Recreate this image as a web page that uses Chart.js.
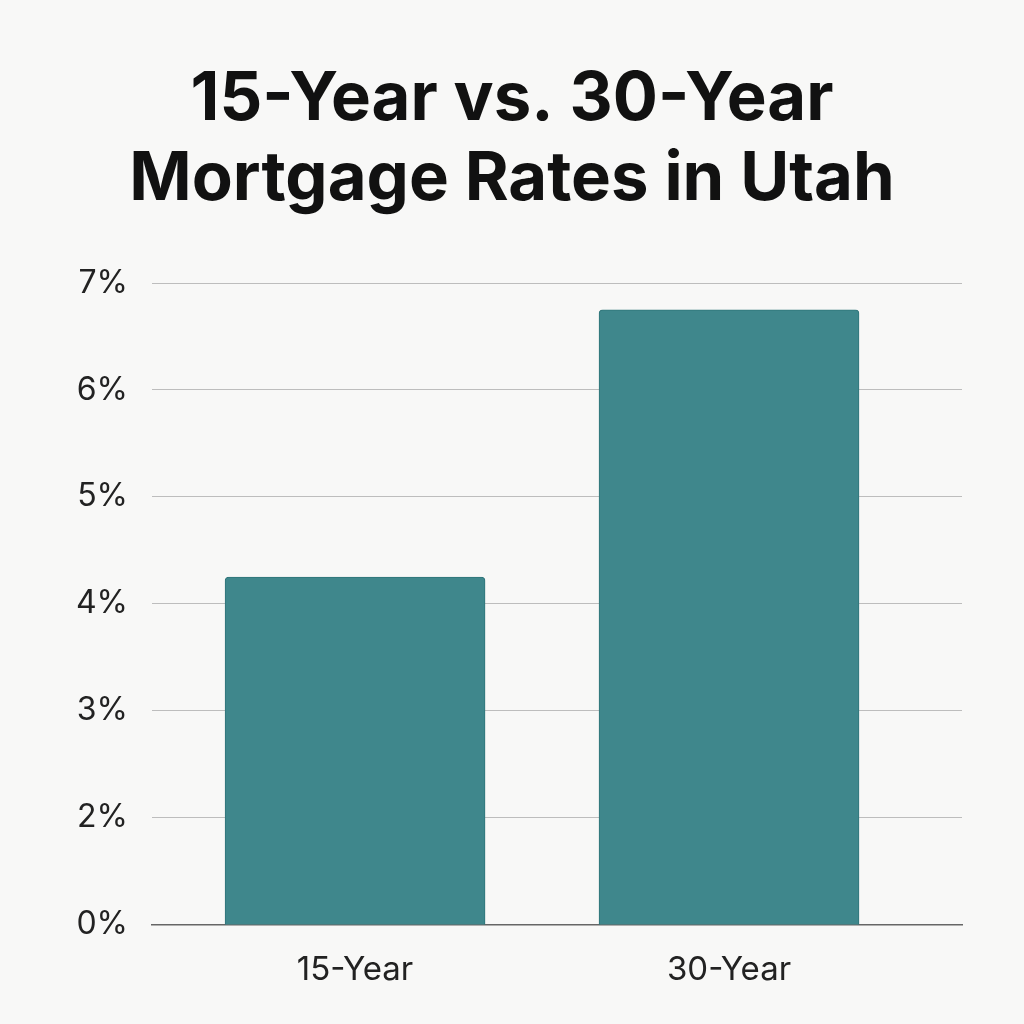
<!DOCTYPE html>
<html><head><meta charset="utf-8">
<script src="https://cdn.jsdelivr.net/npm/chart.js@4"></script>
<style>html,body{margin:0;padding:0;background:#f8f8f7;}#w{width:1024px;height:1024px;}</style>
</head><body><div id="w"><canvas id="c"></canvas></div>
<script>
const categories = ["15-Year", "30-Year"];
const rates = [4.25, 6.75];
// The reference's axis marks its bottom gridline (the 1% level) as "0%"
const tickValues = [1, 2, 3, 4, 5, 6, 7];
const tickLabels = ["0%", "2%", "3%", "4%", "5%", "6%", "7%"];
const titleLines = ["15-Year vs. 30-Year", "Mortgage Rates in Utah"];

const titlePlugin = {
  id: 'canvasTitle',
  afterDraw(chart) {
    const ctx = chart.ctx;
    ctx.save();
    ctx.fillStyle = '#111';
    ctx.font = 'bold 67px Inter';
    ctx.textAlign = 'center';
    ctx.textBaseline = 'middle';
    titleLines.forEach((t, i) => ctx.fillText(t, chart.width / 2, 100 + i * 80));
    ctx.restore();
  }
};

new Chart(document.getElementById('c'), {
  type: 'bar',
  data: { datasets: [{ data: categories.map((c, i) => ({ x: i, y: rates[i] })), backgroundColor: '#3f878c', borderColor: '#2f7479', borderWidth: 1, borderRadius: 4, borderSkipped: 'bottom', barThickness: 260 }] },
  plugins: [titlePlugin],
  options: {
    responsive: true, maintainAspectRatio: false, animation: false,
    layout: { padding: { left: 0, right: 62, top: 283, bottom: 16 } },
    plugins: { legend: { display: false }, tooltip: { enabled: false } },
    scales: {
      x: { type: 'linear', min: -0.543, max: 1.623, offset: false,
           afterBuildTicks: s => { s.ticks = categories.map((c, i) => ({ value: i })); },
           grid: { display: false }, border: { display: true, color: '#666', width: 1.5 },
           ticks: { color: '#222', font: { family: 'Inter', size: 33 }, padding: 18,
                    callback: v => categories[v] } },
      y: { min: 1, max: 7,
           afterBuildTicks: s => { s.ticks = tickValues.map(v => ({ value: v })); },
           afterFit: s => { s.width = 152; },
           grid: { color: '#bdbdbd', lineWidth: 1, drawTicks: false },
           border: { display: false },
           ticks: { color: '#222', font: { family: 'Inter', size: 32 }, padding: 24,
                    callback: v => tickLabels[tickValues.indexOf(v)] } }
    }
  }
});
</script></body></html>
